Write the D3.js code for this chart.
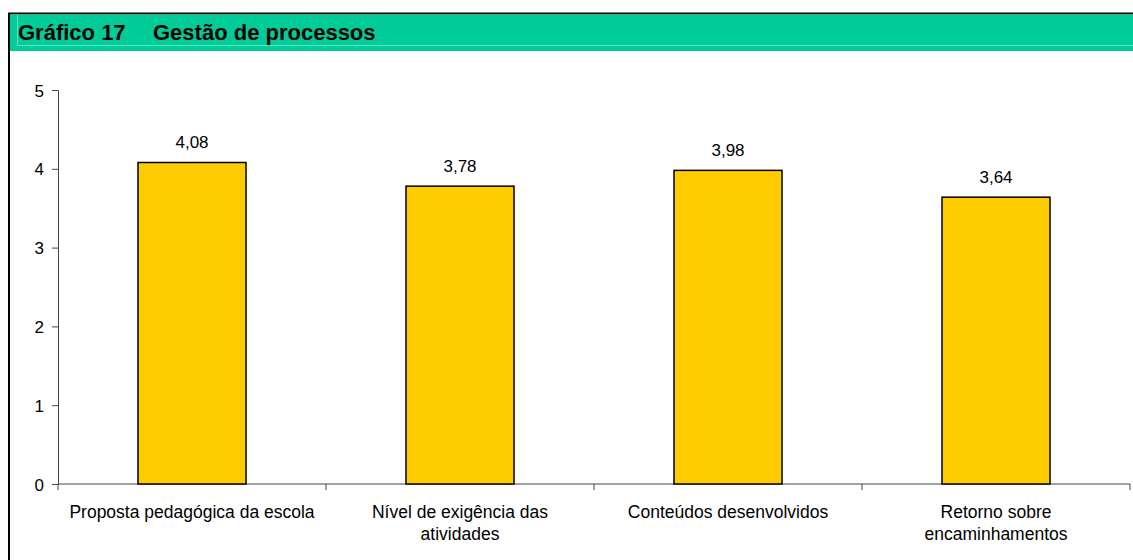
<!DOCTYPE html>
<html><head><meta charset="utf-8">
<script src="https://cdn.jsdelivr.net/npm/d3@7"></script>
<style>body{margin:0;background:#fff}svg{display:block;font-family:Arial,"Liberation Sans",sans-serif}</style>
</head><body><svg id="c" width="1133" height="560"></svg>
<script>
const categories = [["Proposta pedagógica da escola"],["Nível de exigência das","atividades"],["Conteúdos desenvolvidos"],["Retorno sobre","encaminhamentos"]];
const values = [4.08, 3.78, 3.98, 3.64];
const valueLabels = ["4,08","3,78","3,98","3,64"];
const yTicks = [0,1,2,3,4,5];
const titleNum = "Gráfico 17";
const titleText = "Gestão de processos";

const svg = d3.select("#c");
// outer border
svg.append("rect").attr("x",9).attr("y",13.5).attr("width",1140).attr("height",560).attr("fill","#fff").attr("stroke","#000").attr("stroke-width",2);
// header
svg.append("rect").attr("x",10).attr("y",14.5).attr("width",1130).attr("height",36.5).attr("fill","#00CC99");
svg.append("path").attr("d","M17.5,14.5V45.5H1140").attr("fill","none").attr("stroke","#66E0C2").attr("stroke-width",1);
svg.append("text").attr("x",18).attr("y",39.5).attr("font-size",22).attr("font-weight","bold").text(titleNum);
svg.append("text").attr("x",153).attr("y",39.5).attr("font-size",22).attr("font-weight","bold").text(titleText);

const x0=58, x1=1130, yTop=90, yBot=484;
const x = d3.scaleBand().domain(d3.range(categories.length)).range([x0,x1]).paddingInner(0).paddingOuter(0);
const y = d3.scaleLinear().domain([0,5]).range([yBot,yTop]);

// y axis
const ya = svg.append("g").attr("transform",`translate(${x0},0)`).call(d3.axisLeft(y).tickValues(yTicks).tickSize(6).tickPadding(8).tickFormat(d3.format("d")));
ya.select(".domain").attr("stroke","#444");
ya.selectAll(".tick line").attr("stroke","#444");
ya.selectAll("text").attr("font-size",17).attr("font-family","Arial,'Liberation Sans',sans-serif").attr("fill","#000").attr("dy","0.36em");

// x axis
const xa = svg.append("g").attr("transform",`translate(0,${yBot})`);
xa.append("line").attr("x1",x0).attr("x2",x1).attr("y1",0).attr("y2",0).attr("stroke","#444");
xa.selectAll("line.t").data(d3.range(categories.length+1)).join("line").attr("class","t")
  .attr("x1",i=>x0+i*x.bandwidth()).attr("x2",i=>x0+i*x.bandwidth()).attr("y1",0).attr("y2",6).attr("stroke","#444");

// bars
const bw = x.bandwidth()*0.403;
svg.selectAll("rect.bar").data(values).join("rect").attr("class","bar")
  .attr("x",(d,i)=>x(i)+x.bandwidth()/2-bw/2).attr("width",bw)
  .attr("y",d=>y(d)).attr("height",d=>yBot-y(d))
  .attr("fill","#FFCC00").attr("stroke","#000").attr("stroke-width",1.5);

svg.selectAll("text.val").data(values).join("text").attr("class","val")
  .attr("x",(d,i)=>x(i)+x.bandwidth()/2).attr("y",d=>y(d)-14.5)
  .attr("text-anchor","middle").attr("font-size",17).text((d,i)=>valueLabels[i]);

// category labels
categories.forEach((lines,i)=>{
  const t = svg.append("text").attr("text-anchor","middle").attr("font-size",17.5);
  lines.forEach((l,j)=>t.append("tspan").attr("x",x(i)+x.bandwidth()/2).attr("y",518+j*22).text(l));
});
</script></body></html>
